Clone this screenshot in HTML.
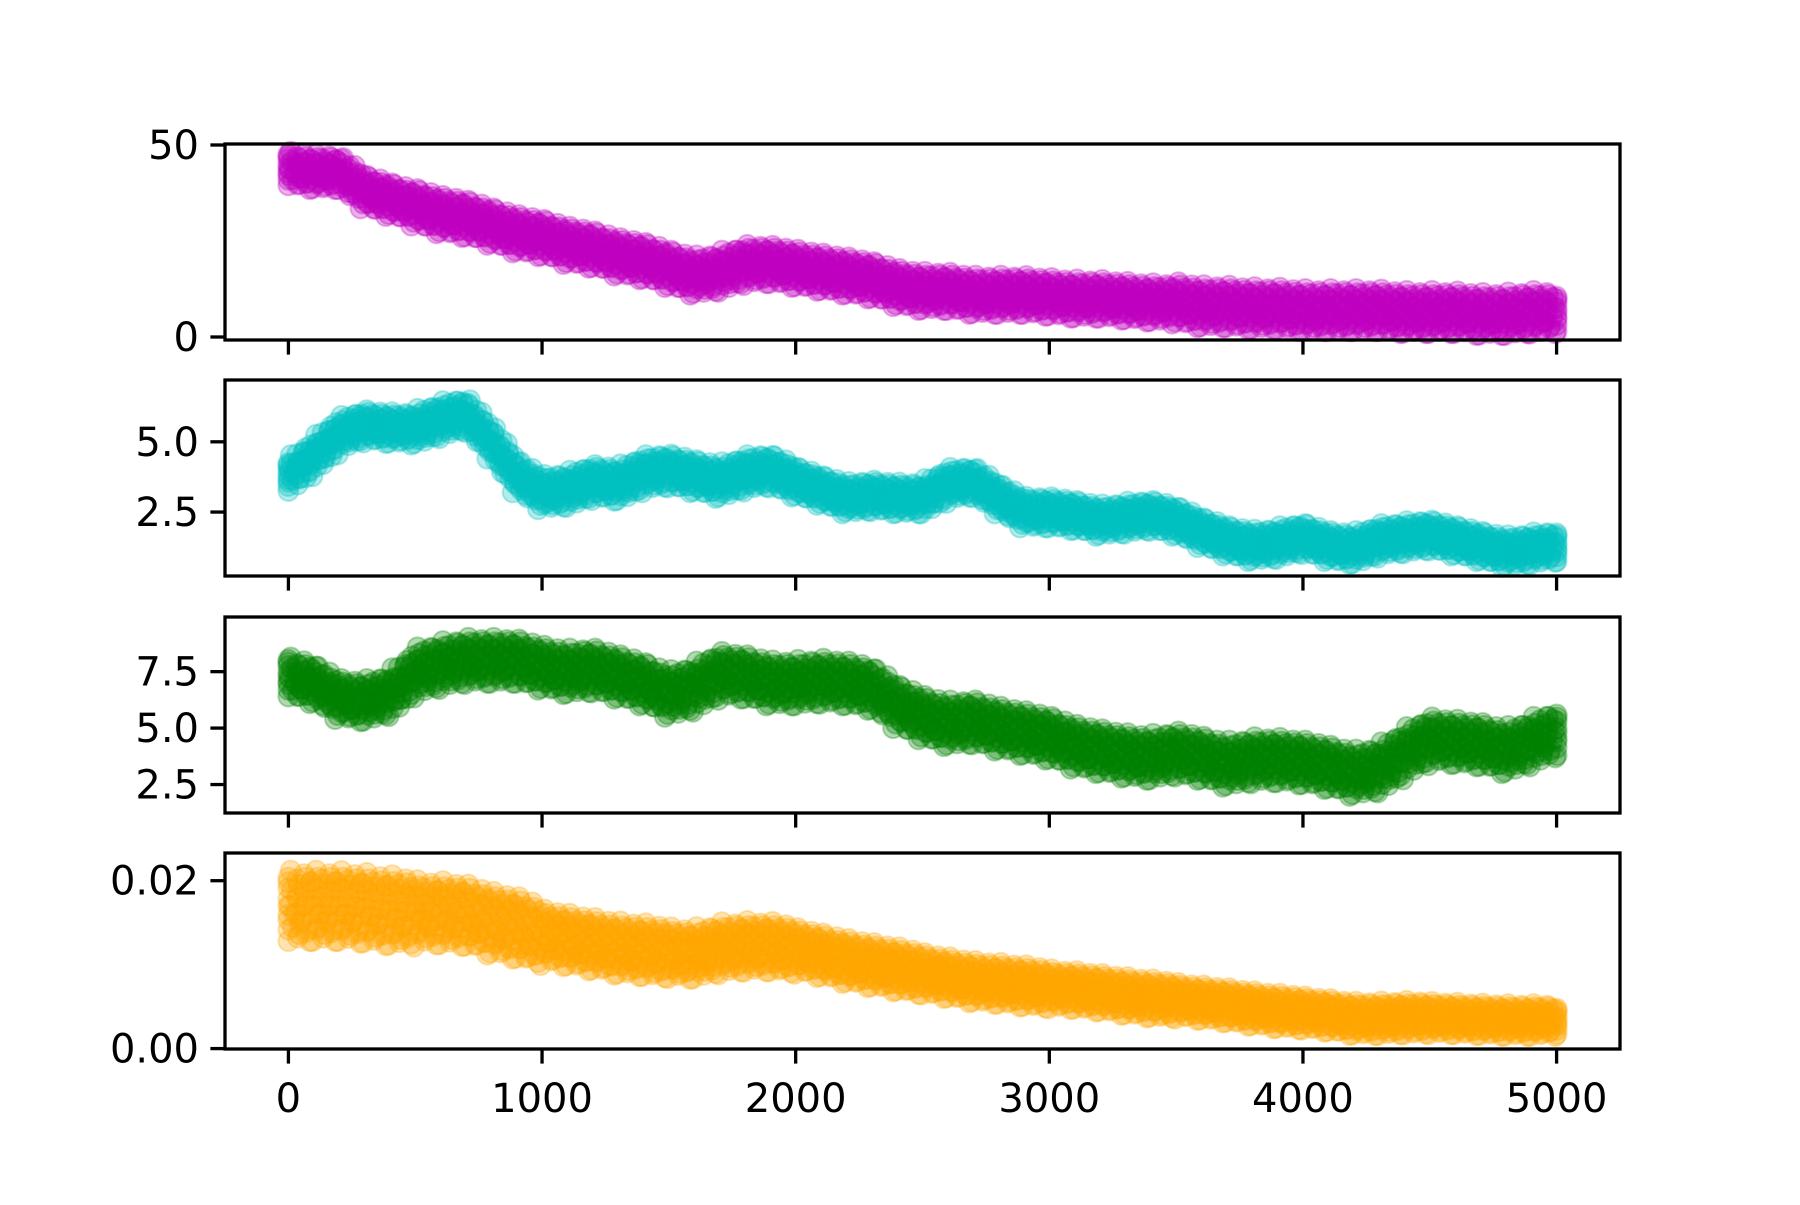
<!DOCTYPE html>
<html><head><meta charset="utf-8"><style>
html,body{margin:0;padding:0;background:#fff}
svg text{font-family:"DejaVu Sans","Liberation Sans",sans-serif;font-size:40px;fill:#000}
</style></head><body>
<svg id="fig" width="1800" height="1200" viewBox="0 0 1800 1200" xmlns="http://www.w3.org/2000/svg">
<rect width="1800" height="1200" fill="#fff"/>
</svg>
<script>
const xValues = [0,100,200,300,400,500,600,700,800,900,1000,1100,1200,1300,1400,1500,1600,1700,1800,1900,2000,2100,2200,2300,2400,2500,2600,2700,2800,2900,3000,3100,3200,3300,3400,3500,3600,3700,3800,3900,4000,4100,4200,4300,4400,4500,4600,4700,4800,4900,5000];
const magentaValues = [44,43,43,38,36,34,32,31,29,27,26,24,23,21,20,18,16,17,19,19,18,17,16,15,13,12,12,11,11,11,10.5,10,10,9.5,9,9,8,8,7.5,7.5,7,7,7,7,6.5,6.5,6.5,6,6,6.5,6.5];
const cyanValues = [3.8,4.5,5.3,5.6,5.5,5.5,5.8,6.0,5.0,3.8,3.2,3.3,3.6,3.5,3.9,4.0,3.8,3.6,3.9,4.0,3.6,3.3,3.0,3.1,3.0,3.0,3.5,3.6,3.0,2.5,2.5,2.4,2.2,2.3,2.4,2.2,1.8,1.5,1.3,1.4,1.6,1.3,1.2,1.5,1.6,1.7,1.5,1.3,1.1,1.2,1.3];
const greenValues = [7.3,7.0,6.3,6.2,6.5,7.5,7.8,8.0,8.0,8.0,7.7,7.5,7.6,7.3,7.0,6.5,6.8,7.4,7.3,7.0,7.0,7.1,7.0,6.8,6.0,5.5,5.2,5.3,5.0,4.8,4.6,4.2,4.0,3.8,3.7,3.9,3.7,3.4,3.6,3.6,3.5,3.3,3.0,3.2,3.9,4.5,4.4,4.3,4.0,4.4,4.8];
const orangeValues = [.017,.017,.017,.0168,.0165,.0163,.0162,.016,.015,.0145,.0135,.013,.0125,.012,.0118,.0115,.0113,.012,.0122,.0122,.0118,.0112,.0105,.01,.0095,.009,.0085,.008,.0078,.0075,.0072,.007,.0067,.0063,.006,.0058,.0055,.0052,.0048,.0045,.0043,.004,.0036,.0036,.0037,.0037,.0036,.0035,.0034,.0034,.0034];
const magentaSpread = [4.5,5,5,5,5,5,5,5.5,5.5,5.5,5];
const cyanSpread = [0.55,0.6,0.6,0.6,0.55,0.55,0.55,0.55,0.55,0.55,0.55];
const greenSpread = [0.9,1.0,1.0,1.0,1.0,1.0,1.0,1.0,1.0,1.0,1.0];
const orangeSpread = [.0042,.0038,.0032,.003,.0027,.0025,.0023,.0021,.002,.0019,.0017];
const xTicks = [0,1000,2000,3000,4000,5000];
const xTickLabels = ["0","1000","2000","3000","4000","5000"];
const ticks1 = [0,50], labels1 = ["0","50"];
const ticks2 = [2.5,5.0], labels2 = ["2.5","5.0"];
const ticks3 = [2.5,5.0,7.5], labels3 = ["2.5","5.0","7.5"];
const ticks4 = [0,0.02], labels4 = ["0.00","0.02"];

const NS="http://www.w3.org/2000/svg";
const svg=document.getElementById('fig');
const L=225,R=1620;
const X0=-250,X1=5250;
function xs(v){return L+(v-X0)/(X1-X0)*(R-L);}
function mk(tag,attrs,parent){const e=document.createElementNS(NS,tag);for(const k in attrs)e.setAttribute(k,attrs[k]);(parent||svg).appendChild(e);return e;}

const panels=[
 {top:144,bot:340,ymin:-0.78,ymax:50.26,vals:magentaValues,spread:magentaSpread,color:"#bf00bf",ticks:ticks1,labels:labels1,name:"magenta"},
 {top:380,bot:576,ymin:0.224,ymax:7.2,vals:cyanValues,spread:cyanSpread,color:"#00bfbf",ticks:ticks2,labels:labels2,name:"cyan"},
 {top:617,bot:813,ymin:1.24,ymax:9.92,vals:greenValues,spread:greenSpread,color:"#008000",ticks:ticks3,labels:labels3,name:"green"},
 {top:853,bot:1049,ymin:-0.00005,ymax:0.0233,vals:orangeValues,spread:orangeSpread,color:"#ffa500",ticks:ticks4,labels:labels4,name:"orange"}
];
const offs=[-1,-0.75,-0.5,-0.25,0,0.25,0.5,0.75,1];
const xj=[-4,3,-2,5,0,-5,2,-3,4];
const SUB=4;
panels.forEach((p,pi)=>{
  const ys=v=>p.bot-(v-p.ymin)/(p.ymax-p.ymin)*(p.bot-p.top);
  const g=mk('g',{});
  
  
  for(let i=0;i<xValues.length;i++){
    const s=p.spread[Math.min(10,Math.floor(i/5))];
    for(let h=0;h<SUB;h++){
      if(h>0&&i===xValues.length-1)continue;
      const f=h/SUB;
      const xv=h?xValues[i]+(xValues[i+1]-xValues[i])*f:xValues[i];
      const yv=h?p.vals[i]+(p.vals[i+1]-p.vals[i])*f:p.vals[i];
      offs.forEach((o,k)=>{
        const edge=(xv===0||xv===5000);
        const c=mk('circle',{cx:xs(xv)+(edge?0:xj[(k+h)%9]),cy:ys(yv+o*s*(1-0.1*((k+h)%3))),r:10,fill:p.color,'fill-opacity':0.3,stroke:p.color,'stroke-opacity':0.3,'stroke-width':2},g);
        
        
      });
    }
  }
  const fr=mk('rect',{x:L,y:p.top,width:R-L,height:p.bot-p.top,fill:'none',stroke:'#000','stroke-width':3.3});
  
  
  xTicks.forEach((t,j)=>{
    const tk=mk('line',{x1:xs(t),x2:xs(t),y1:p.bot,y2:p.bot+14.6,stroke:'#000','stroke-width':3.3});
    
    
    if(pi===3){
      const tx=mk('text',{x:xs(t),y:p.bot+63,'text-anchor':'middle'});
      tx.textContent=xTickLabels[j];
      
      
    }
  });
  p.ticks.forEach((t,j)=>{
    const y=ys(t);
    const tk=mk('line',{x1:L-14.6,x2:L,y1:y,y2:y,stroke:'#000','stroke-width':3.3});
    
    
    const tx=mk('text',{x:L-26,y:y+14,'text-anchor':'end'});
    tx.textContent=p.labels[j];
    
    
  });
});
</script>
</body></html>
